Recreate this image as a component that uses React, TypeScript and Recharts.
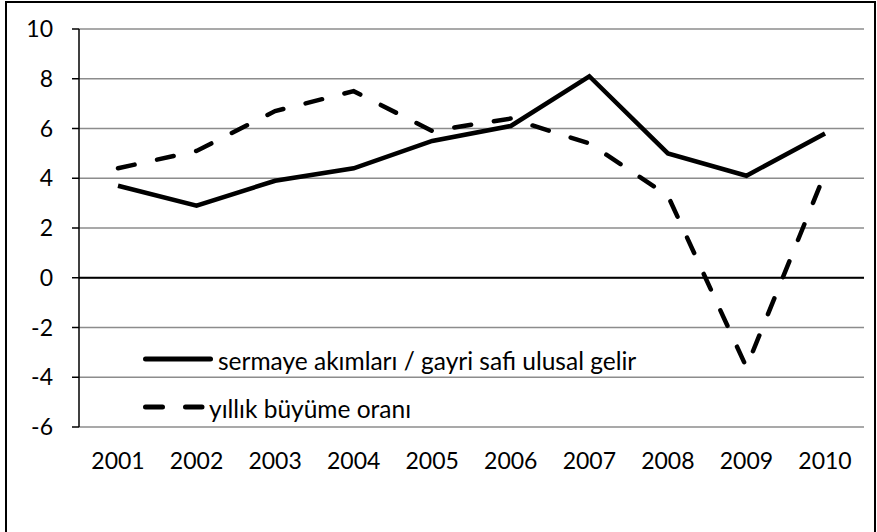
import { LineChart, Line, XAxis, YAxis, CartesianGrid, ReferenceLine } from 'recharts';

const years = ['2001', '2002', '2003', '2004', '2005', '2006', '2007', '2008', '2009', '2010'];
const capitalFlows = [3.7, 2.9, 3.9, 4.4, 5.5, 6.1, 8.1, 5.0, 4.1, 5.8];
const growthRate = [4.4, 5.1, 6.7, 7.5, 5.9, 6.4, 5.4, 3.3, -3.6, 4.2];
const yTicks = [-6, -4, -2, 0, 2, 4, 6, 8, 10];
const flowsLabel = 'sermaye akımları / gayri safi ulusal gelir';
const growthLabel = 'yıllık büyüme oranı';

const data = years.map((year, i) => ({ year, flows: capitalFlows[i], growth: growthRate[i] }));

const FONT = 'Lato, Carlito, Calibri, sans-serif';
const DASH = '17 23';

function ChartLegend() {
  const items = [
    { label: flowsLabel, dash: undefined as string | undefined, textX: 78 },
    { label: growthLabel, dash: DASH, textX: 69 },
  ];
  return (
    <svg width={600} height={90} style={{ position: 'absolute', left: 140, top: 343 }}>
      {items.map((item, i) => {
        const y = 16 + i * 48;
        return (
          <g key={item.label}>
            <line
              x1={5.5}
              x2={item.dash ? 62 : 70.5}
              y1={y}
              y2={y}
              stroke="#000"
              strokeWidth={5}
              strokeLinecap="round"
              strokeDasharray={item.dash}
            />
            <text x={item.textX} y={y + 1} dominantBaseline="central" fontSize={24.5} fontFamily={FONT} fill="#000">
              {item.label}
            </text>
          </g>
        );
      })}
    </svg>
  );
}

export default function App() {
  return (
    <div style={{ position: 'absolute', left: 0, top: 0, width: 877, height: 532, background: '#fff', overflow: 'hidden' }}>
      <div
        style={{
          position: 'absolute',
          left: 5,
          top: 1,
          width: 871,
          height: 545,
          border: '2px solid #000',
          boxSizing: 'border-box',
        }}
      />
      <LineChart width={877} height={532} data={data} margin={{ top: 29, right: 13, bottom: 65, left: 0 }}>
        <CartesianGrid vertical={false} stroke="#8c8c8c" strokeWidth={1.5} />
        <XAxis
          dataKey="year"
          axisLine={false}
          tickLine={false}
          height={40}
          tickMargin={20}
          interval={0}
          padding={{ left: 39, right: 39 }}
          tick={{ fill: '#000', fontSize: 23, fontFamily: FONT }}
        />
        <YAxis
          width={79}
          domain={[-6, 10]}
          ticks={yTicks}
          interval={0}
          tickSize={7}
          tickMargin={19}
          axisLine={{ stroke: '#000', strokeWidth: 1.5 }}
          tickLine={{ stroke: '#000', strokeWidth: 1.5 }}
          tick={{ fill: '#000', fontSize: 23, fontFamily: FONT }}
        />
        <ReferenceLine y={0} stroke="#000" strokeWidth={2} />
        <Line
          type="linear"
          dataKey="flows"
          name={flowsLabel}
          stroke="#000"
          strokeWidth={4.5}
          dot={false}
          isAnimationActive={false}
        />
        <Line
          type="linear"
          dataKey="growth"
          name={growthLabel}
          stroke="#000"
          strokeWidth={4.5}
          strokeDasharray={DASH}
          strokeLinecap="round"
          dot={false}
          isAnimationActive={false}
        />
      </LineChart>
      <ChartLegend />
    </div>
  );
}
